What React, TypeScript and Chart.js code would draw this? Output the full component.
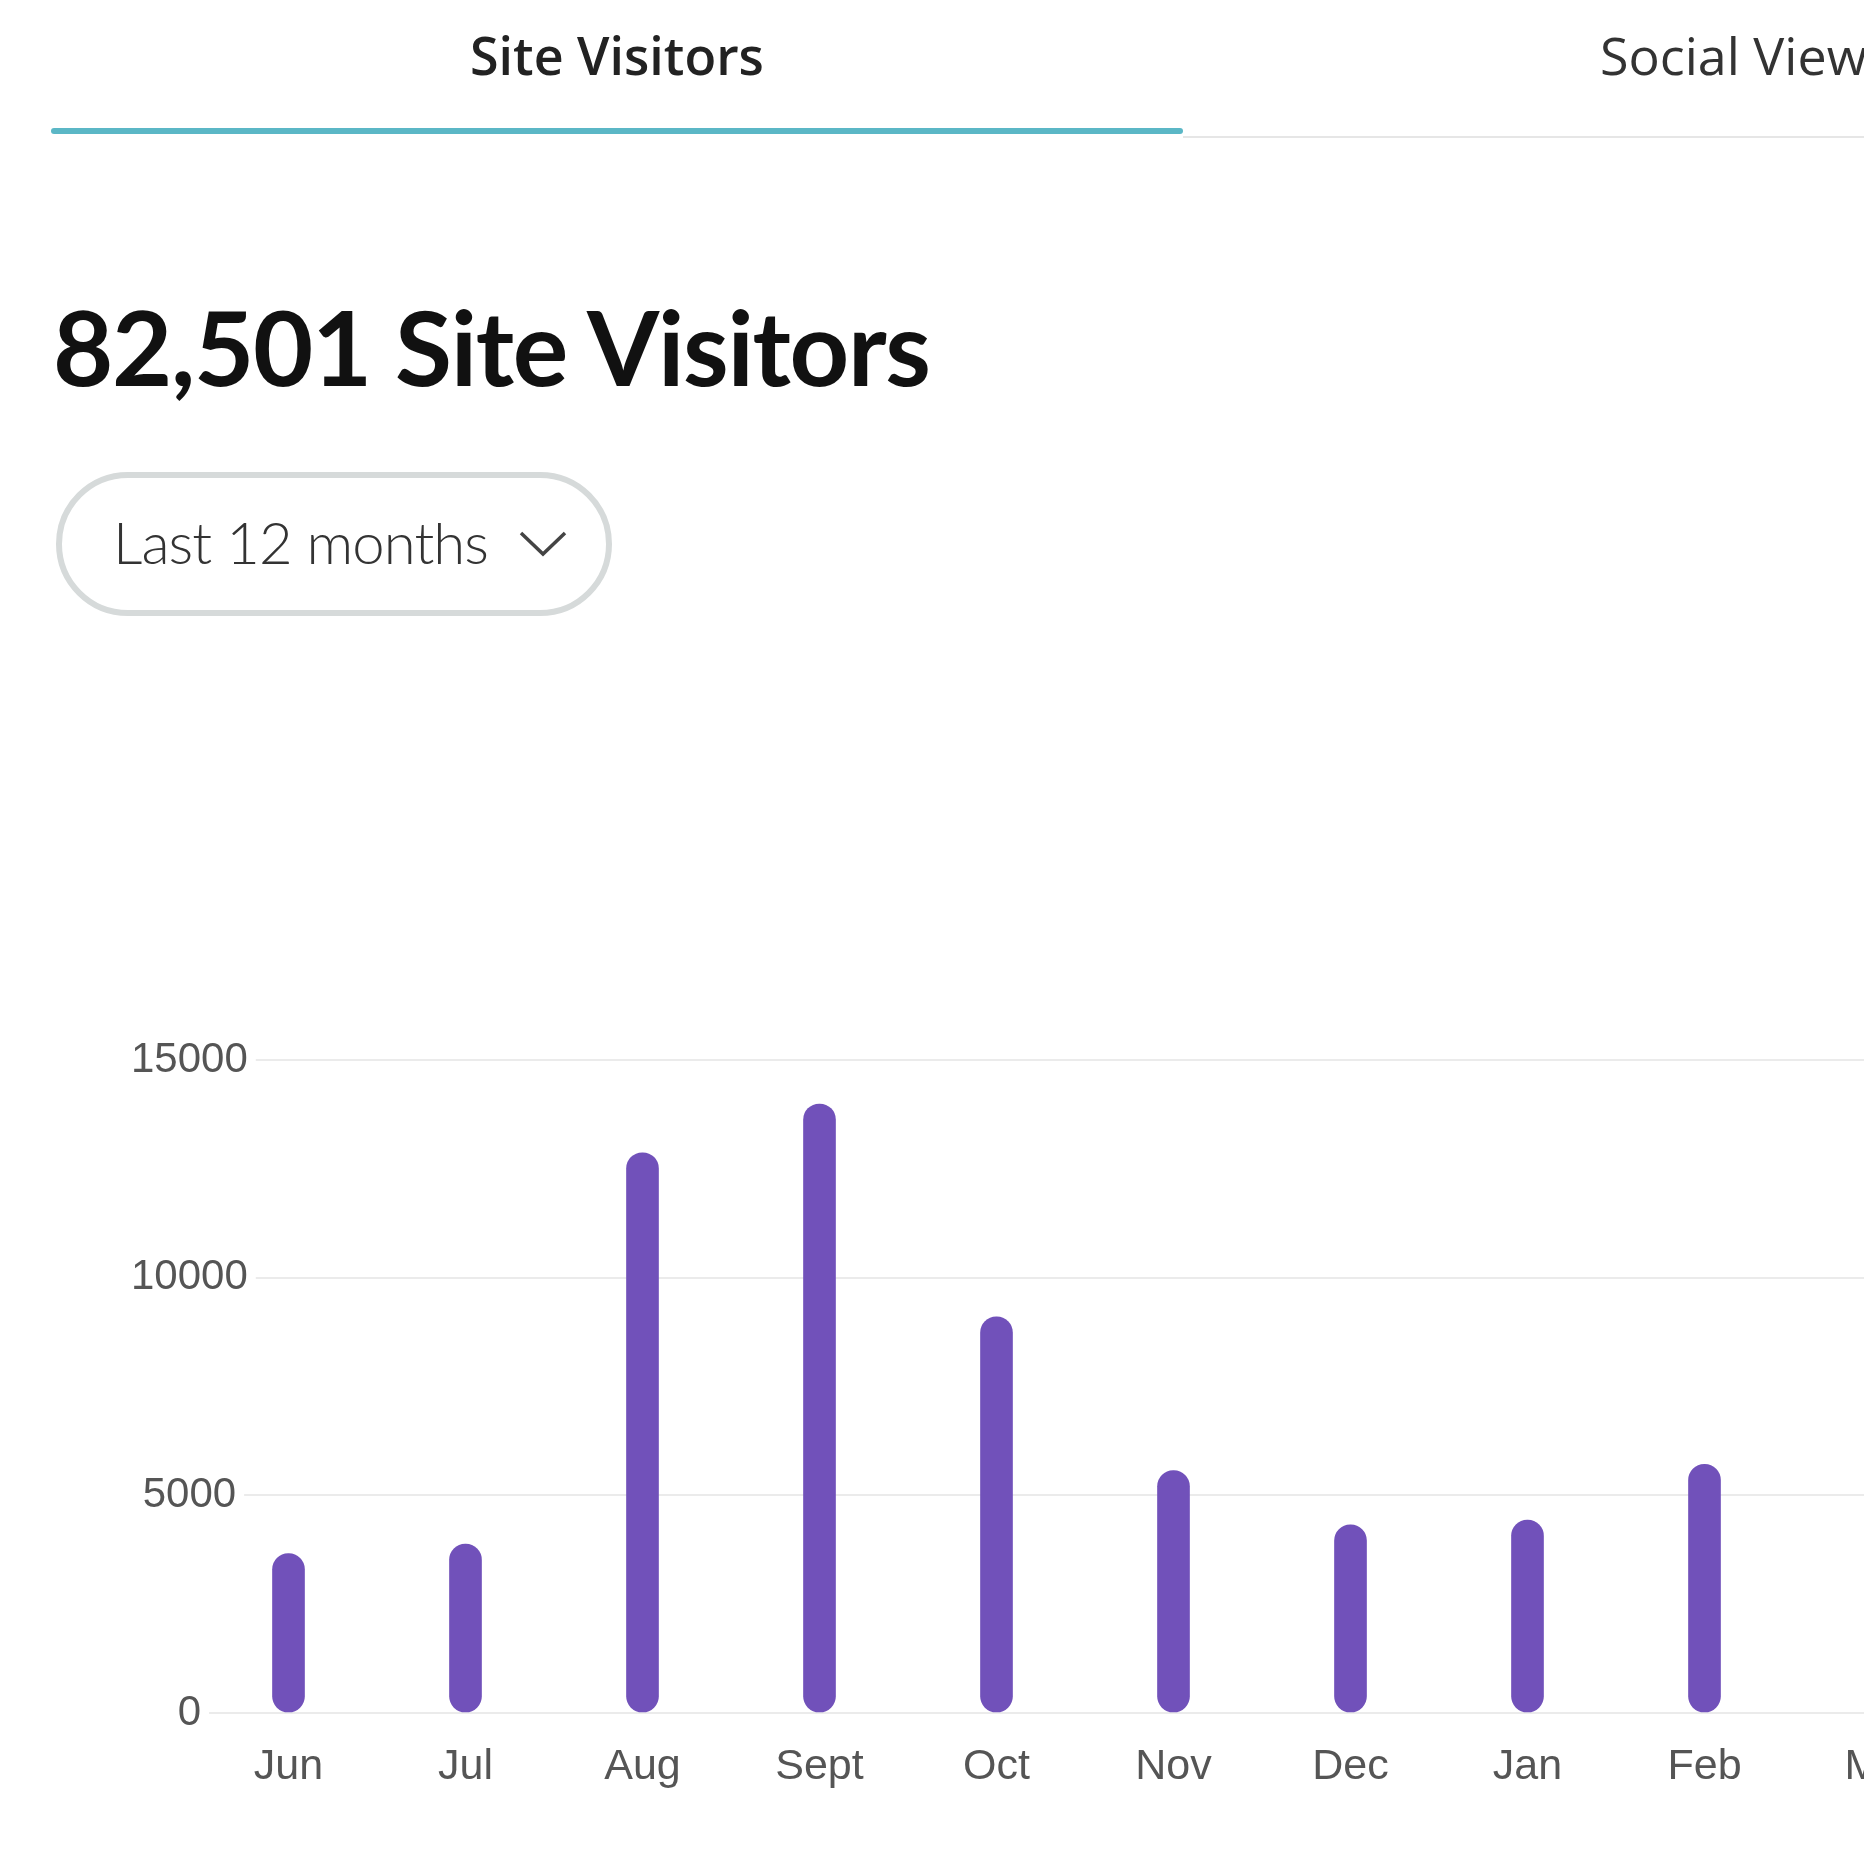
import React, { useEffect, useRef } from 'react';
import { Chart, registerables } from 'chart.js';

Chart.register(...registerables);

const months = ['Jun', 'Jul', 'Aug', 'Sept', 'Oct', 'Nov', 'Dec', 'Jan', 'Feb', 'Mar'];
const visitors = [3660, 3880, 12870, 13990, 9100, 5570, 4320, 4430, 5710, 7260];
const yTicks = [0, 5000, 10000, 15000];
const tabLabels = ['Site Visitors', 'Social Views'];
const totalLabel = '82,501 Site Visitors';
const rangeLabel = 'Last 12 months';

const tickFont = '"Liberation Sans", Arial, sans-serif';
const uiFont = '"Open Sans", sans-serif';

function BarChart() {
  const ref = useRef<HTMLCanvasElement | null>(null);
  useEffect(() => {
    if (!ref.current) return;
    const chart = new Chart(ref.current, {
      type: 'bar',
      data: {
        labels: months,
        datasets: [
          {
            data: visitors,
            backgroundColor: '#7151BA',
            barThickness: 32,
            borderRadius: 16,
            borderSkipped: false,
          },
        ],
      },
      options: {
        animation: false,
        responsive: false,
        maintainAspectRatio: false,
        layout: { padding: { top: 40, left: 0, right: 0, bottom: 0 } },
        plugins: { legend: { display: false }, tooltip: { enabled: false } },
        scales: {
          x: {
            grid: { display: false, drawTicks: false },
            border: { display: false },
            ticks: {
              color: '#555555',
              font: { family: tickFont, size: 43 },
              padding: 28,
              maxRotation: 0,
              autoSkip: false,
            },
            afterFit: (s: any) => {
              s.height = 100;
            },
          },
          y: {
            min: 0,
            max: 15000,
            afterBuildTicks: (s: any) => {
              s.ticks = yTicks.map((v) => ({ value: v }));
            },
            grid: { color: '#ebebeb', lineWidth: 2, drawTicks: false },
            border: { display: false },
            ticks: {
              color: '#555555',
              font: { family: tickFont, size: 42 },
              mirror: true,
              padding: -69,
              crossAlign: 'center',
              showLabelBackdrop: true,
              backdropColor: '#ffffff',
              backdropPadding: { top: 2, bottom: 2, left: 8, right: 8 },
              callback: (v: any) => String(v),
            } as any,
            afterFit: (s: any) => {
              s.width = 200;
            },
          },
        },
      },
    });
    return () => chart.destroy();
  }, []);
  return (
    <canvas
      ref={ref}
      width={1970}
      height={793}
      style={{ position: 'absolute', left: 0, top: 1020, width: 1970, height: 793 }}
    />
  );
}

export default function App() {
  return (
    <div
      style={{
        position: 'fixed',
        left: 0,
        top: 0,
        width: 1864,
        height: 1864,
        overflow: 'hidden',
        background: '#ffffff',
      }}
    >
      {/* tabs */}
      <div
        style={{
          position: 'absolute',
          left: 470,
          top: 29,
          fontFamily: uiFont,
          fontSize: 52,
          fontWeight: 600,
          lineHeight: '52px',
          color: '#222222',
          whiteSpace: 'nowrap',
        }}
      >
        {tabLabels[0]}
      </div>
      <div
        style={{
          position: 'absolute',
          left: 1600,
          top: 29,
          fontFamily: uiFont,
          fontSize: 52,
          fontWeight: 400,
          lineHeight: '52px',
          color: '#333333',
          whiteSpace: 'nowrap',
        }}
      >
        {tabLabels[1]}
      </div>
      <div style={{ position: 'absolute', left: 1183, top: 136, width: 700, height: 2, background: '#e6e6e6' }} />
      <div
        style={{
          position: 'absolute',
          left: 51,
          top: 128,
          width: 1132,
          height: 6,
          borderRadius: 3,
          background: '#5bb7c6',
        }}
      />
      {/* title */}
      <div
        style={{
          position: 'absolute',
          left: 53,
          top: 294,
          fontFamily: 'Lato, sans-serif',
          fontSize: 104,
          fontWeight: 700,
          lineHeight: '104px',
          letterSpacing: '-1.3px',
          color: '#111111',
          whiteSpace: 'nowrap',
        }}
      >
        {totalLabel}
      </div>
      {/* range selector */}
      <div
        style={{
          position: 'absolute',
          left: 56,
          top: 472,
          width: 556,
          height: 144,
          boxSizing: 'border-box',
          border: '6px solid #d6dada',
          borderRadius: 72,
        }}
      />
      <div
        style={{
          position: 'absolute',
          left: 113,
          top: 513,
          fontFamily: 'Lato, sans-serif',
          fontSize: 58,
          fontWeight: 300,
          lineHeight: '58px',
          letterSpacing: '-0.9px',
          color: '#333333',
          whiteSpace: 'nowrap',
        }}
      >
        {rangeLabel}
      </div>
      <svg
        style={{ position: 'absolute', left: 515, top: 525 }}
        width={56}
        height={36}
        viewBox="0 0 56 36"
      >
        <polyline points="6,8 28,29 50,8" fill="none" stroke="#444444" strokeWidth={3.5} />
      </svg>
      <BarChart />
    </div>
  );
}
